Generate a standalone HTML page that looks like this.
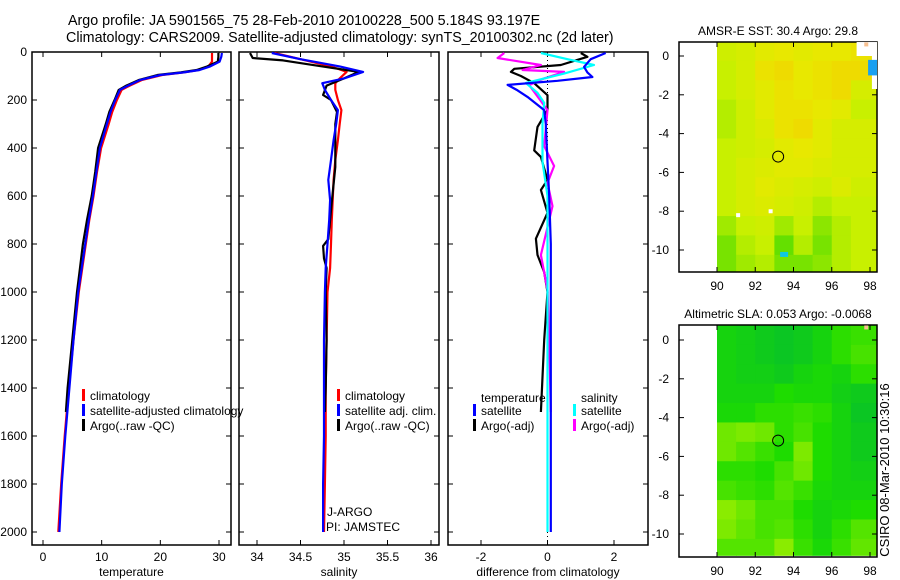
<!DOCTYPE html>
<html><head><meta charset="utf-8">
<style>
html,body{margin:0;padding:0;background:#fff;}
svg{display:block;font-family:"Liberation Sans",sans-serif;}
</style></head>
<body>
<svg id="fig" width="900" height="580" viewBox="0 0 900 580" xmlns="http://www.w3.org/2000/svg">
<rect width="900" height="580" fill="#fff"/>
<text x="68" y="25" font-size="14.3">Argo profile: JA 5901565_75 28-Feb-2010 20100228_500 5.184S 93.197E</text>
<text x="66" y="42" font-size="14.3">Climatology: CARS2009. Satellite-adjusted climatology: synTS_20100302.nc (2d later)</text>
<text x="889" y="470" font-size="13" text-anchor="middle" transform="rotate(-90 889 470)">CSIRO 08-Mar-2010 10:30:16</text>
<g id="layer"></g>
</svg>
<script>
// ---- Temperature panel data ----
const tDepth = [4,20,40,60,75,85,96,117,140,158,200,250,300,400,500,600,700,800,900,1000,1200,1400,1600,1800,2000];
const tSat = [30.5,30.4,30.1,28.5,26.7,24,20,16.5,14.5,13.1,12.3,11.5,10.9,9.7,9.1,8.5,7.8,7.2,6.6,6.0,5.2,4.5,3.8,3.2,2.8];
const tClim = [28.8,28.8,28.8,28.2,26.5,24,20.3,16.8,14.8,13.4,12.6,11.8,11.2,9.9,9.2,8.6,7.9,7.3,6.7,6.1,5.2,4.4,3.7,3.1,2.6];
const tArgoDepth = [4,20,40,60,75,85,96,117,140,158,200,250,300,400,500,600,700,800,900,1000,1200,1400,1500];
const tArgo = [29.9,29.9,29.8,28,26.2,23.5,19.5,16.3,14.2,12.9,12.2,11.3,10.7,9.4,8.9,8.3,7.5,6.8,6.3,5.8,5.0,4.2,3.9];
// ---- Salinity panel data ----
const sDepth = [4,30,60,83,110,130,158,200,242,300,367,450,533,617,700,800,900,1000,1200,1400,1600,1800,2000];
const sSat = [34.17,34.5,34.95,35.22,35.0,34.75,34.78,34.85,34.93,34.91,34.88,34.85,34.82,34.84,34.83,34.81,34.79,34.78,34.77,34.77,34.77,34.76,34.76];
const sClim = [34.2,34.5,34.85,35.03,34.95,34.9,34.9,34.93,34.97,34.95,34.93,34.9,34.88,34.87,34.86,34.85,34.84,34.81,34.8,34.79,34.79,34.78,34.77];
const sArgoDepth = [4,25,35,60,83,110,140,179,200,250,300,400,479,625,700,780,808,860,900,1000,1200,1400,1500];
const sArgo = [33.92,33.95,34.3,34.75,35.17,35.0,34.8,34.76,34.85,34.92,34.9,34.9,34.9,34.86,34.84,34.82,34.76,34.77,34.8,34.79,34.8,34.79,34.78];
// ---- Difference panel data ----
const dTSatDepth = [4,30,62,85,104,120,137,160,187,242,300,458,600,800,1000,1500,2000];
const dTSat = [1.75,1.3,1.1,1.2,1.35,0.3,-1.2,-0.9,-0.6,-0.1,-0.05,0,0.05,0.1,0.1,0.1,0.1];
const dSSatDepth = [4,30,54,90,129,170,212,300,458,600,1000,2000];
const dSSat = [-0.2,0.6,1.4,0.5,-0.65,-0.3,-0.1,-0.15,-0.15,0,0,0];
const dTArgoDepth = [4,20,54,70,83,100,130,180,242,312,410,437,533,575,670,778,846,917,1000,1200,1500];
const dTArgo = [1.0,1.2,0.4,-1.0,-1.1,-0.8,-0.4,0,0,-0.3,-0.4,-0.2,0,-0.2,0,-0.35,-0.3,-0.1,0,-0.1,-0.2];
const dSArgoDepth = [4,25,54,75,83,110,138,242,392,475,545,642,846,992,1200,1500];
const dSArgo = [-1.3,-1.5,-0.2,-0.75,0.5,-0.1,-0.55,0,-0.1,0.2,0,0.15,-0.2,0,0.05,0.1];
// ---- Tick labels ----
const depthTicks = [0,200,400,600,800,1000,1200,1400,1600,1800,2000];
const tTicks = [0,10,20,30];
const sTicks = [34,34.5,35,35.5,36];
const dTicks = [-2,0,2];
const lonTicks = [90,92,94,96,98];
const latTicks = [0,-2,-4,-6,-8,-10];
// ---- Map grids (rows from 0.75N southward, 1 deg; cols 90E..98.37E) ----
const sstGrid = [
[0.55,0.6,0.7,0.75,0.7,0.75,0.75,0.8,0.8],
[0.5,0.6,0.8,0.85,0.75,0.8,0.85,0.85,0.85],
[0.5,0.6,0.7,0.8,0.75,0.8,0.85,0.6,0.6],
[0.45,0.55,0.7,0.8,0.8,0.75,0.7,0.5,0.5],
[0.45,0.55,0.65,0.8,0.85,0.7,0.6,0.6,0.6],
[0.5,0.55,0.6,0.7,0.75,0.7,0.6,0.6,0.6],
[0.5,0.6,0.65,0.7,0.7,0.65,0.6,0.6,0.6],
[0.5,0.6,0.7,0.65,0.6,0.55,0.65,0.55,0.55],
[0.5,0.6,0.65,0.6,0.55,0.45,0.5,0.5,0.5],
[0.4,0.5,0.55,0.4,0.5,0.35,0.45,0.5,0.5],
[0.3,0.45,0.5,0.25,0.45,0.3,0.45,0.5,0.5],
[0.3,0.4,0.45,0.3,0.3,0.35,0.45,0.5,0.5]];
const slaGrid = [
[0.3,0.25,0.2,0.15,0.2,0.3,0.45,0.5,0.5],
[0.3,0.25,0.2,0.15,0.2,0.3,0.45,0.55,0.55],
[0.3,0.25,0.25,0.2,0.3,0.35,0.3,0.45,0.45],
[0.3,0.3,0.3,0.4,0.35,0.35,0.25,0.2,0.2],
[0.35,0.35,0.45,0.45,0.5,0.45,0.3,0.15,0.15],
[0.7,0.75,0.7,0.45,0.55,0.4,0.3,0.2,0.2],
[0.7,0.6,0.5,0.4,0.75,0.4,0.3,0.2,0.2],
[0.45,0.45,0.4,0.55,0.7,0.4,0.3,0.25,0.25],
[0.55,0.5,0.45,0.6,0.5,0.35,0.3,0.3,0.3],
[0.8,0.7,0.55,0.55,0.4,0.3,0.35,0.4,0.4],
[0.75,0.65,0.55,0.6,0.45,0.3,0.45,0.6,0.6],
[0.6,0.6,0.6,0.8,0.5,0.35,0.5,0.65,0.65]];
const floatLon = 93.197, floatLat = -5.184;

const NS='http://www.w3.org/2000/svg';
const layer=document.getElementById('layer');
function mk(tag,attrs,parent){const e=document.createElementNS(NS,tag);for(const k in attrs)e.setAttribute(k,attrs[k]);(parent||layer).appendChild(e);return e;}
function lin(d0,d1,r0,r1){return v=>r0+(v-d0)*(r1-r0)/(d1-d0);}

const PT=52, PB=545;
const yD=lin(0,1000,52,292);

function panel(name,x0,x1,xs,ticks,label,fmt){
  const g=mk('g',{});
  
  
  const box=mk('rect',{x:x0,y:PT,width:x1-x0,height:PB-PT,fill:'none',stroke:'#000','stroke-width':1.5},g);
  
  
  ticks.forEach(t=>{const x=xs(t);
    mk('line',{x1:x,x2:x,y1:PB,y2:PB-5,stroke:'#000'},g);
    mk('line',{x1:x,x2:x,y1:PT,y2:PT+5,stroke:'#000'},g);
    const tl=mk('text',{x:x,y:PB+16,'font-size':12,'text-anchor':'middle'},g);
    tl.textContent=fmt?fmt(t):t;
    
    
  });
  depthTicks.forEach(d=>{const y=yD(d);
    mk('line',{x1:x0,x2:x0+5,y1:y,y2:y,stroke:'#000'},g);
    mk('line',{x1:x1,x2:x1-5,y1:y,y2:y,stroke:'#000'},g);
  });
  const xl=mk('text',{x:(x0+x1)/2,y:PB+31,'font-size':12,'text-anchor':'middle'},g);
  xl.textContent=label;
  
  
  return g;
}
function line(g,name,xs,vals,depths,color){
  const pts=vals.map((v,i)=>xs(v).toFixed(1)+','+yD(depths[i]).toFixed(1)).join(' ');
  const p=mk('polyline',{points:pts,fill:'none',stroke:color,'stroke-width':2.2,'stroke-linejoin':'round'},g);
  
  
}
function legend(g,x,y,color,txt,name){
  mk('rect',{x:x,y:y-9,width:3,height:12,fill:color},g);
  const t=mk('text',{x:x+8,y:y+2,'font-size':12},g);
  t.textContent=txt;
  
  
}

depthTicks.forEach(d=>{
  const t=mk('text',{x:27,y:yD(d)+4,'font-size':12,'text-anchor':'end'});
  t.textContent=d;
  
  
});

const xT=lin(0,30,43,219);
const g1=panel('temperature-panel',32,231,xT,tTicks,'temperature');
line(g1,'temp-climatology-line',xT,tClim,tDepth,'#f00');
line(g1,'temp-argo-line',xT,tArgo,tArgoDepth,'#000');
line(g1,'temp-satellite-line',xT,tSat,tDepth,'#00f');
legend(g1,82,398,'#f00','climatology','temp-legend-climatology');
legend(g1,82,413,'#00f','satellite-adjusted climatology','temp-legend-satellite');
legend(g1,82,428,'#000','Argo(..raw -QC)','temp-legend-argo');

const xS=lin(34,36,257,431);
const g2=panel('salinity-panel',239,439,xS,sTicks,'salinity');
line(g2,'sal-climatology-line',xS,sClim,sDepth,'#f00');
line(g2,'sal-argo-line',xS,sArgo,sArgoDepth,'#000');
line(g2,'sal-satellite-line',xS,sSat,sDepth,'#00f');
legend(g2,337,398,'#f00','climatology','sal-legend-climatology');
legend(g2,337,413,'#00f','satellite adj. clim.','sal-legend-satellite');
legend(g2,337,428,'#000','Argo(..raw -QC)','sal-legend-argo');
const ja=mk('text',{x:327,y:516,'font-size':12},g2);ja.textContent='J-ARGO';

const pi=mk('text',{x:326,y:531,'font-size':12},g2);pi.textContent='PI: JAMSTEC';


const xDf=lin(-2,2,481,614);
const g3=panel('difference-panel',448,648,xDf,dTicks,'difference from climatology');
mk('line',{x1:xDf(0),x2:xDf(0),y1:PT,y2:PB,stroke:'#000','stroke-dasharray':'1,3'},g3);
line(g3,'diff-temp-argo-line',xDf,dTArgo,dTArgoDepth,'#000');
line(g3,'diff-sal-argo-line',xDf,dSArgo,dSArgoDepth,'#f0f');
line(g3,'diff-sal-satellite-line',xDf,dSSat,dSSatDepth,'#0ff');
line(g3,'diff-temp-satellite-line',xDf,dTSat,dTSatDepth,'#00f');
const lt=mk('text',{x:481,y:402,'font-size':12},g3);lt.textContent='temperature';

const ls=mk('text',{x:581,y:402,'font-size':12},g3);ls.textContent='salinity';

legend(g3,473,413,'#00f','satellite','diff-legend-temp-satellite');
legend(g3,473,428,'#000','Argo(-adj)','diff-legend-temp-argo');
legend(g3,573,413,'#0ff','satellite','diff-legend-sal-satellite');
legend(g3,573,428,'#f0f','Argo(-adj)','diff-legend-sal-argo');

function lerpC(stops,v){v=Math.max(0,Math.min(1,v));
  for(let i=0;i<stops.length-1;i++){const [a,ca]=stops[i],[b,cb]=stops[i+1];
    if(v<=b){const f=(v-a)/(b-a);return 'rgb('+ca.map((c,j)=>Math.round(c+(cb[j]-c)*f)).join(',')+')';}}
  return 'rgb('+stops[stops.length-1][1].join(',')+')';}
const sstStops=[[0,[0,208,0]],[0.5,[200,240,0]],[0.75,[232,232,0]],[1,[248,200,0]]];
const slaStops=[[0,[0,184,56]],[0.4,[30,220,0]],[1,[192,244,0]]];

function map(name,top,bottom,lat0y,grid,stops,title){
  const g=mk('g',{});
  
  
  const xL=lin(90,98,717,870), yL=lin(0,-10,lat0y,lat0y+194);
  const L=679,R=877;
  grid.forEach((row,r)=>row.forEach((v,c)=>{
    const la0=0.75-r, la1=Math.max(-11.1,0.75-r-1);
    const lo0=90+c, lo1=Math.min(98.37,91+c);
    if(lo0>=98.37)return;
    const cell=mk('rect',{x:xL(lo0),y:yL(la0),width:xL(lo1)-xL(lo0)+0.5,height:yL(la1)-yL(la0)+0.5,fill:lerpC(stops,v)},g);
    
    
  }));
  mk('rect',{x:L,y:top-12,width:R-L,height:12,fill:'#fff'},g);
  const fr=mk('rect',{x:L,y:top,width:R-L,height:bottom-top,fill:'none',stroke:'#000','stroke-width':1.5},g);
  
  lonTicks.forEach(lo=>{const x=xL(lo);
    mk('line',{x1:x,x2:x,y1:bottom,y2:bottom-5,stroke:'#000'},g);
    mk('line',{x1:x,x2:x,y1:top,y2:top+5,stroke:'#000'},g);
    const t=mk('text',{x:x,y:bottom+18,'font-size':12,'text-anchor':'middle'},g);t.textContent=lo;
    });
  latTicks.forEach(la=>{const y=yL(la);
    mk('line',{x1:L,x2:L+5,y1:y,y2:y,stroke:'#000'},g);
    mk('line',{x1:R,x2:R-5,y1:y,y2:y,stroke:'#000'},g);
    const t=mk('text',{x:L-10,y:y+4,'font-size':12,'text-anchor':'end'},g);t.textContent=la;
    });
  const c=mk('circle',{cx:xL(floatLon),cy:yL(floatLat),r:5.5,fill:'none',stroke:'#000','stroke-width':1},g);
  
  const tt=mk('text',{x:(L+R)/2,y:top-7,'font-size':12,'text-anchor':'middle'},g);tt.textContent=title;
  
  return {g,xL,yL};
}
const m1=map('sst-map',42,272,56,sstGrid,sstStops,'AMSR-E SST: 30.4  Argo: 29.8');
mk('rect',{x:m1.xL(97.3),y:m1.yL(0.72),width:m1.xL(98.37)-m1.xL(97.3),height:m1.yL(0)-m1.yL(0.72),fill:'#fff'},m1.g);
mk('rect',{x:m1.xL(98.1),y:m1.yL(0),width:m1.xL(98.37)-m1.xL(98.1),height:m1.yL(-1.7)-m1.yL(0),fill:'#fff'},m1.g);
mk('rect',{x:m1.xL(97.9),y:m1.yL(-0.2),width:m1.xL(98.37)-m1.xL(97.9),height:m1.yL(-1.0)-m1.yL(-0.2),fill:'#19a0f0'},m1.g);
mk('rect',{x:m1.xL(97.7),y:m1.yL(0.7),width:4,height:4,fill:'#f8c090'},m1.g);
mk('rect',{x:m1.xL(91),y:m1.yL(-8.1),width:4,height:4,fill:'#fff'},m1.g);
mk('rect',{x:m1.xL(92.7),y:m1.yL(-7.9),width:4,height:4,fill:'#fff'},m1.g);
mk('rect',{x:m1.xL(93.3),y:m1.yL(-10.1),width:8,height:5,fill:'#10c8e0'},m1.g);
const m2=map('sla-map',325,557,340,slaGrid,slaStops,'Altimetric SLA: 0.053  Argo: -0.0068');
mk('rect',{x:m2.xL(97.7),y:m2.yL(0.75),width:4,height:4,fill:'#f8c090'},m2.g);
</script>
</body></html>
